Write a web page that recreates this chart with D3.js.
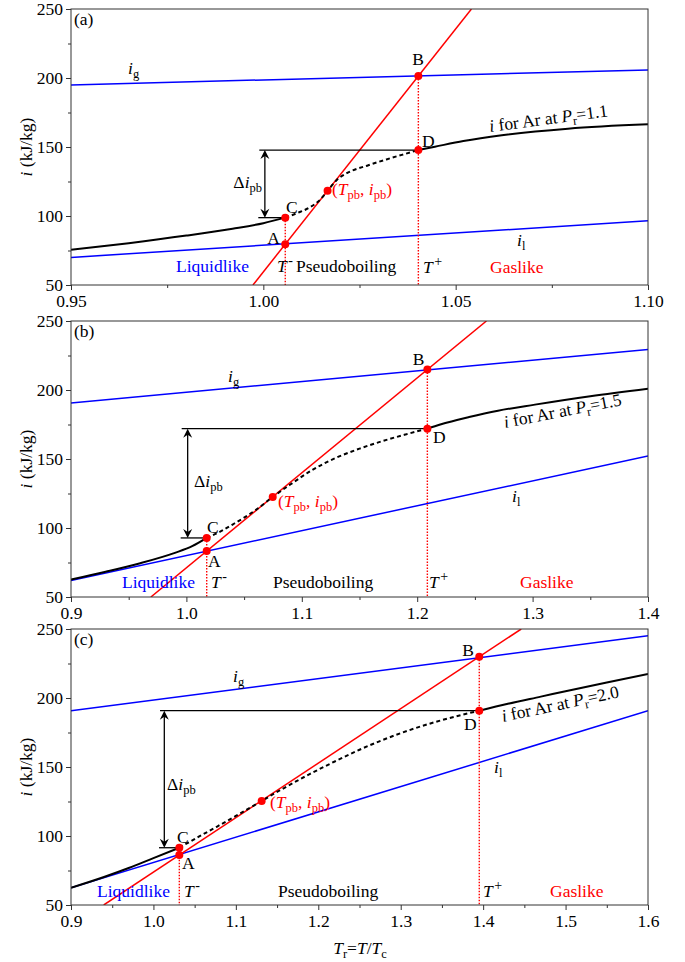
<!DOCTYPE html>
<html>
<head>
<meta charset="utf-8">
<script src="https://cdn.jsdelivr.net/npm/d3@7"></script>
<style>
  body { margin: 0; background: #fff; }
  svg { display: block; }
  text { font-family: "Liberation Serif", "Times New Roman", serif; }
</style>
</head>
<body>
<svg id="chart" width="685" height="962"></svg>
<script>
// Shared y axis: specific enthalpy i (kJ/kg)
const yDomain = [50, 250];
const yTicks = [50, 100, 150, 200, 250];
const yMinorTicks = [75, 125, 175, 225];

// ---- (a) Ar at Pr = 1.1 ----
const xDomainA = [0.95, 1.10];
const xTicksA = [0.95, 1.00, 1.05, 1.10];
const xMinorA = [0.975, 1.025, 1.075];
const igA = [[0.95, 195.0], [1.10, 205.8]];
const ilA = [[0.95, 70.0], [1.10, 96.5]];
const tangentA = [[0.9973, 50], [1.0541, 250]];
const liquidBranchA = [[0.95, 75.5], [0.965, 80.3], [0.98, 85.8], [0.992, 90.8], [1.0, 94.8], [1.0057, 98.8]];
const pseudoBranchA = [[1.0057, 98.8], [1.0087, 102.0], [1.0121, 106.3], [1.0147, 111.6], [1.0167, 118.3],
  [1.0191, 126.1], [1.0217, 131.0], [1.0273, 136.8], [1.032, 141.0], [1.036, 144.3], [1.0403, 147.8]];
const gasBranchA = [[1.0403, 147.8], [1.0446, 150.2], [1.052, 154.3], [1.062, 158.5], [1.0792, 163.3], [1.10, 166.4]];
const pointsA = { A: [1.0057, 79.6], B: [1.0403, 201.4], C: [1.0057, 98.8], D: [1.0403, 147.8], pb: [1.0167, 118.3] };

// ---- (b) Ar at Pr = 1.5 ----
const xDomainB = [0.9, 1.4];
const xTicksB = [0.9, 1.0, 1.1, 1.2, 1.3, 1.4];
const xMinorB = [0.95, 1.05, 1.15, 1.25, 1.35];
const igB = [[0.9, 190.6], [1.4, 229.3]];
const ilB = [[0.9, 62.0], [1.4, 152.2]];
const tangentB = [[0.9692, 50], [1.2600, 250]];
const liquidBranchB = [[0.9, 62.6], [0.93, 68.3], [0.96, 74.5], [0.99, 82.0], [1.005, 86.8], [1.0176, 92.8]];
const pseudoBranchB = [[1.0176, 92.8], [1.03, 97.7], [1.04, 102.5], [1.05, 107.5], [1.06, 113.0], [1.0748, 122.5],
  [1.09, 131.5], [1.11, 142.5], [1.13, 151.0], [1.15, 157.5], [1.17, 163.0], [1.19, 167.8], [1.2088, 172.0]];
const gasBranchB = [[1.2088, 172.0], [1.22, 175.0], [1.245, 180.4], [1.27, 185.0], [1.302, 189.4], [1.35, 195.5], [1.4, 201.0]];
const pointsB = { A: [1.0176, 83.3], B: [1.2088, 214.8], C: [1.0176, 92.8], D: [1.2088, 172.0], pb: [1.0748, 122.5] };

// ---- (c) Ar at Pr = 2.0 ----
const xDomainC = [0.9, 1.6];
const xTicksC = [0.9, 1.0, 1.1, 1.2, 1.3, 1.4, 1.5, 1.6];
const xMinorC = [0.95, 1.05, 1.15, 1.25, 1.35, 1.45, 1.55];
const igC = [[0.9, 190.8], [1.6, 245.1]];
const ilC = [[0.9, 62.5], [1.6, 190.8]];
const tangentC = [[0.9397, 50], [1.4462, 250]];
const liquidBranchC = [[0.9, 62.5], [0.94, 70.3], [0.97, 76.8], [1.0, 84.0], [1.0314, 91.5]];
const pseudoBranchC = [[1.0314, 91.5], [1.055, 99.5], [1.0768, 106.7], [1.1, 114.5], [1.1172, 120.5], [1.1313, 125.4],
  [1.16, 135.3], [1.19, 145.0], [1.22, 154.0], [1.25, 162.5], [1.30, 174.5], [1.35, 184.0], [1.3953, 190.8]];
const gasBranchC = [[1.3953, 190.8], [1.43, 195.8], [1.47, 201.0], [1.51, 206.2], [1.55, 211.3], [1.6, 217.4]];
const pointsC = { A: [1.0314, 86.2], B: [1.3953, 229.9], C: [1.0314, 91.5], D: [1.3953, 190.8], pb: [1.1313, 125.4] };

const pressureLabels = ["1.1", "1.5", "2.0"];
const panelTags = ["(a)", "(b)", "(c)"];

// ---- layout ----
const plotLeft = 71, plotRight = 648, plotH = 276;
const panelTops = [9, 321, 629];
const BLUE = "#0000ff", RED = "#ff0000";
const FS = 17.5, SUB = 12.5;

// label anchors: [x in px, y offset from panel top]
const layouts = [
  { tag: [74, 16], ig: [128, 65], B: [418, 56, "middle"], D: [422, 138], C: [286, 204], A: [280, 235, "end"],
    pb: [332, 186], dI: [262, 179, "end"], il: [517, 237], liquid: [176, 263], tminus: [277, 263],
    pseudo: [296, 263], tplus: [423, 264], gas: [490, 264], curve: [490, 123, -7.5],
    lineStart: 0.99895, arrowT: 1.0004 },
  { tag: [74, 16], ig: [228, 61], B: [418.5, 44, "middle"], D: [433, 122], C: [207, 212], A: [208, 246],
    pb: [278, 186], dI: [194, 166], il: [512, 181], liquid: [122, 267], tminus: [211, 267],
    pseudo: [273, 267], tplus: [429, 267], gas: [520, 267], curve: [505, 107, -11],
    lineStart: 0.9959, arrowT: 1.0011 },
  { tag: [74, 16], ig: [233, 53], B: [474, 27, "end"], D: [464, 101], C: [177, 214], A: [182, 240],
    pb: [270, 179], dI: [167, 161], il: [494, 144], liquid: [97, 268], tminus: [184, 268],
    pseudo: [278, 268], tplus: [483, 268], gas: [550, 268], curve: [503, 93, -12],
    lineStart: 1.008, arrowT: 1.0132 }
];

const panels = [
  { xDomain: xDomainA, xTicks: xTicksA, xMinor: xMinorA, fmt: d3.format(".2f"), ig: igA, il: ilA, tangent: tangentA,
    liquid: liquidBranchA, pseudo: pseudoBranchA, gas: gasBranchA, pts: pointsA },
  { xDomain: xDomainB, xTicks: xTicksB, xMinor: xMinorB, fmt: d3.format(".1f"), ig: igB, il: ilB, tangent: tangentB,
    liquid: liquidBranchB, pseudo: pseudoBranchB, gas: gasBranchB, pts: pointsB },
  { xDomain: xDomainC, xTicks: xTicksC, xMinor: xMinorC, fmt: d3.format(".1f"), ig: igC, il: ilC, tangent: tangentC,
    liquid: liquidBranchC, pseudo: pseudoBranchC, gas: gasBranchC, pts: pointsC }
];

const svg = d3.select("#chart");
const SERIF = '"Liberation Serif", "Times New Roman", serif';

// text with italic / subscript / superscript runs
function rich(g, x, y, parts, opt = {}) {
  const t = g.append("text").attr("x", x).attr("y", y).attr("font-size", FS)
    .style("font-family", SERIF)
    .attr("fill", opt.fill || "#000").attr("text-anchor", opt.anchor || "start");
  if (opt.transform) t.attr("transform", opt.transform);
  let shift = 0;
  parts.forEach(([s, kind]) => {
    const sp = t.append("tspan").text(s);
    let ns = 0;
    if (kind && kind.includes("i")) sp.attr("font-style", "italic");
    if (kind && kind.includes("sub")) { ns = 4; sp.attr("font-size", SUB); }
    if (kind && kind.includes("sup")) { ns = -7; sp.attr("font-size", 14).attr("dx", 1.5); }
    if (ns !== shift) sp.attr("dy", ns - shift);
    shift = ns;
  });
  return t;
}

function arrowHead(g, x, y, dir) {
  // dir = -1 points up, +1 points down; tip at (x, y)
  const L = 9, hw = 4.5, notch = 3;
  const p = d3.path();
  p.moveTo(x, y);
  p.lineTo(x - hw, y - dir * L);
  p.lineTo(x, y - dir * (L - notch));
  p.lineTo(x + hw, y - dir * L);
  p.closePath();
  g.append("path").attr("d", p.toString()).attr("fill", "#000");
}

panels.forEach((p, k) => {
  const top = panelTops[k];
  const lay = layouts[k];
  const x = d3.scaleLinear().domain(p.xDomain).range([plotLeft, plotRight]);
  const y = d3.scaleLinear().domain(yDomain).range([top + plotH, top]);
  const g = svg.append("g");

  const clipId = "clip" + k;
  svg.append("clipPath").attr("id", clipId).append("rect")
    .attr("x", plotLeft).attr("y", top).attr("width", plotRight - plotLeft).attr("height", plotH);
  const plot = g.append("g").attr("clip-path", `url(#${clipId})`);

  const line = d3.line().x(d => x(d[0])).y(d => y(d[1]));
  const curve = d3.line().x(d => x(d[0])).y(d => y(d[1])).curve(d3.curveMonotoneX);

  // ideal-gas and liquid limits
  plot.append("path").attr("d", line(p.ig)).attr("fill", "none").attr("stroke", BLUE).attr("stroke-width", 1.5);
  plot.append("path").attr("d", line(p.il)).attr("fill", "none").attr("stroke", BLUE).attr("stroke-width", 1.5);

  // vertical markers at T- and T+
  plot.append("line").attr("x1", x(p.pts.C[0])).attr("x2", x(p.pts.C[0]))
    .attr("y1", y(p.pts.C[1])).attr("y2", y(yDomain[0]))
    .attr("stroke", RED).attr("stroke-width", 1.4).attr("stroke-dasharray", "1.5,1.5");
  plot.append("line").attr("x1", x(p.pts.B[0])).attr("x2", x(p.pts.B[0]))
    .attr("y1", y(p.pts.B[1])).attr("y2", y(yDomain[0]))
    .attr("stroke", RED).attr("stroke-width", 1.4).attr("stroke-dasharray", "1.5,1.5");

  // Δi_pb bracket
  const yC = y(p.pts.C[1]), yD = y(p.pts.D[1]);
  g.append("line").attr("x1", x(lay.lineStart)).attr("x2", x(p.pts.D[0])).attr("y1", yD).attr("y2", yD)
    .attr("stroke", "#000").attr("stroke-width", 1.3);
  g.append("line").attr("x1", x(lay.lineStart) - 1).attr("x2", x(p.pts.C[0])).attr("y1", yC).attr("y2", yC)
    .attr("stroke", "#000").attr("stroke-width", 1.3);
  const ax = x(lay.arrowT);
  g.append("line").attr("x1", ax).attr("x2", ax).attr("y1", yD + 4).attr("y2", yC - 4)
    .attr("stroke", "#000").attr("stroke-width", 1.3);
  arrowHead(g, ax, yD, -1);
  arrowHead(g, ax, yC, 1);

  // pseudoboiling tangent
  plot.append("path").attr("d", line(p.tangent)).attr("fill", "none").attr("stroke", RED).attr("stroke-width", 1.5);

  // enthalpy curve: liquidlike, pseudoboiling (dashed), gaslike
  plot.append("path").attr("d", curve(p.liquid)).attr("fill", "none").attr("stroke", "#000").attr("stroke-width", 2);
  plot.append("path").attr("d", curve(p.pseudo)).attr("fill", "none").attr("stroke", "#000").attr("stroke-width", 2)
    .attr("stroke-dasharray", "4,3");
  plot.append("path").attr("d", curve(p.gas)).attr("fill", "none").attr("stroke", "#000").attr("stroke-width", 2);

  // marker points
  const keys = ["A", "B", "C", "D", "pb"];
  g.selectAll(null).data(keys.map(key => p.pts[key])).join("circle")
    .attr("cx", d => x(d[0])).attr("cy", d => y(d[1])).attr("r", 4).attr("fill", RED);

  // axes
  const xAxis = d3.axisBottom(x).tickValues(p.xTicks).tickFormat(p.fmt).tickSize(5).tickSizeOuter(0).tickPadding(5);
  const gx = g.append("g").attr("transform", `translate(0,${top + plotH})`).call(xAxis);
  const gxm = g.append("g").attr("transform", `translate(0,${top + plotH})`)
    .call(d3.axisBottom(x).tickValues(p.xMinor).tickFormat("").tickSize(3).tickSizeOuter(0));
  const yAxis = d3.axisLeft(y).tickValues(yTicks).tickSize(5).tickSizeOuter(0).tickPadding(3);
  const gy = g.append("g").attr("transform", `translate(${plotLeft},0)`).call(yAxis);
  const gym = g.append("g").attr("transform", `translate(${plotLeft},0)`)
    .call(d3.axisLeft(y).tickValues(yMinorTicks).tickFormat("").tickSize(3).tickSizeOuter(0));
  [gx, gxm, gy, gym].forEach(a => {
    a.attr("font-family", null);
    a.select(".domain").remove();
    a.selectAll("line").attr("stroke", "#333");
    a.selectAll("text").attr("font-size", FS).attr("fill", "#000").style("font-family", SERIF);
  });
  g.append("rect").attr("x", plotLeft).attr("y", top).attr("width", plotRight - plotLeft).attr("height", plotH)
    .attr("fill", "none").attr("stroke", "#333").attr("stroke-width", 1);

  // y axis title
  rich(g, 0, 0, [["i", "i"], [" (kJ/kg)", ""]],
    { anchor: "middle", transform: `translate(32,${top + plotH / 2}) rotate(-90)` });

  // annotations
  const at = key => [lay[key][0], top + lay[key][1]];
  rich(g, ...at("tag"), [[panelTags[k], ""]]);
  rich(g, ...at("ig"), [["i", "i"], ["g", "sub"]]);
  rich(g, ...at("il"), [["i", "i"], ["l", "sub"]]);
  rich(g, ...at("B"), [["B", ""]], { anchor: lay.B[2] });
  rich(g, ...at("D"), [["D", ""]]);
  rich(g, ...at("C"), [["C", ""]]);
  rich(g, ...at("A"), [["A", ""]], { anchor: lay.A[2] || "start" });
  rich(g, ...at("pb"), [["(", ""], ["T", "i"], ["pb", "sub"], [", ", ""], ["i", "i"], ["pb", "sub"], [")", ""]], { fill: RED });
  rich(g, ...at("dI"), [["Δ", ""], ["i", "i"], ["pb", "sub"]], { anchor: lay.dI[2] || "start" });
  rich(g, ...at("liquid"), [["Liquidlike", ""]], { fill: BLUE });
  rich(g, ...at("tminus"), [["T", "i"], ["-", "sup"]]);
  rich(g, ...at("pseudo"), [["Pseudoboiling", ""]]);
  rich(g, ...at("tplus"), [["T", "i"], ["+", "sup"]]);
  rich(g, ...at("gas"), [["Gaslike", ""]], { fill: RED });
  const [cx, cy, ang] = lay.curve;
  rich(g, 0, 0, [["i", "i"], [" for Ar at ", ""], ["P", "i"], ["r", "sub"], ["=" + pressureLabels[k], ""]],
    { transform: `translate(${cx},${top + cy}) rotate(${ang})` });
});

// shared x axis title
rich(svg, 360, 954, [["T", "i"], ["r", "sub"], ["=", ""], ["T", "i"], ["/", ""], ["T", "i"], ["c", "sub"]], { anchor: "middle" });
</script>
</body>
</html>
